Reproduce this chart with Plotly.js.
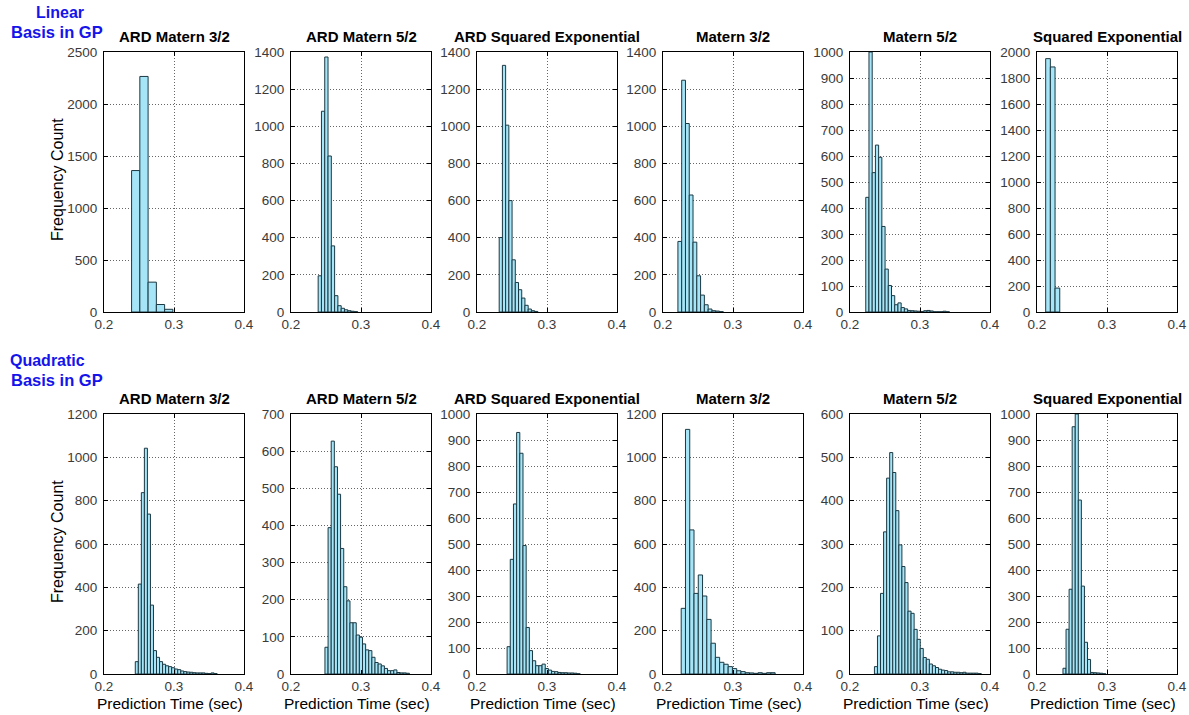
<!DOCTYPE html>
<html>
<head>
<meta charset="utf-8">
<script src="https://cdn.plot.ly/plotly-3.0.1.min.js"></script>
<style>
html,body{margin:0;padding:0;background:#fff;}
#chart{width:1189px;height:715px;}
</style>
</head>
<body>
<div id="chart"></div>
<script>
// ---- Data ----
const kernelNames = ["ARD Matern 3/2", "ARD Matern 5/2", "ARD Squared Exponential", "Matern 3/2", "Matern 5/2", "Squared Exponential"];
const rowLabels = ["Linear", "Quadratic"];
const xTickVals = [0.2, 0.3, 0.4];

// Linear basis: histogram counts
const linArdM32 = [1360, 2265, 287, 72, 26];
const linArdM52 = [195, 1081, 1373, 840, 356, 88, 34, 20, 12, 7, 4, 2];
const linArdSE  = [401, 1328, 1006, 600, 281, 159, 120, 75, 36, 16, 7, 3];
const linM32    = [380, 1248, 1015, 630, 376, 195, 91, 39, 16, 7, 5, 2];
const linM52    = [441, 1000, 536, 642, 595, 329, 165, 102, 63, 28, 35, 17, 12, 6, 5, 4, 3, 2, 5, 6, 4, 1, 1, 1, 3, 1];
const linSE     = [1949, 1885, 184];
const linBinStart = [0.2394, 0.2388, 0.2317, 0.2213, 0.2225, 0.2124];
const linBinWidth = [0.0118, 0.0047, 0.0046, 0.0054, 0.0046, 0.0067];
const linYMax  = [2500, 1400, 1400, 1400, 1000, 2000];
const linYStep = [500, 200, 200, 200, 100, 200];

// Quadratic basis: histogram counts
const quadArdM32 = [57, 415, 837, 1042, 738, 318, 108, 77, 57, 45, 38, 34, 29, 23, 20, 14, 11, 9, 8, 6, 5, 5, 5, 3, 2, 5, 2];
const quadArdM52 = [72, 394, 627, 558, 484, 338, 235, 197, 138, 138, 105, 99, 81, 65, 63, 45, 31, 27, 22, 15, 9, 9, 11, 4, 3, 3, 2];
const quadArdSE  = [105, 441, 654, 929, 849, 494, 179, 90, 51, 32, 32, 38, 21, 15, 10, 9, 6, 5, 5, 4, 4, 3, 1];
const quadM32    = [303, 1129, 665, 372, 457, 360, 252, 142, 77, 54, 45, 34, 25, 15, 11, 6, 5, 3, 6, 3, 6, 6];
const quadM52    = [17, 88, 186, 328, 452, 511, 465, 377, 298, 248, 211, 145, 140, 103, 80, 59, 38, 34, 23, 19, 15, 11, 9, 8, 5, 5, 4, 4, 3, 4, 2, 2, 2, 2, 1];
const quadSE     = [22, 172, 326, 951, 1000, 669, 338, 122, 56, 6, 5, 4, 3, 1];
const quadBinStart = [0.2447, 0.2485, 0.2430, 0.2260, 0.2349, 0.2371];
const quadBinWidth = [0.00433, 0.00447, 0.00454, 0.0061, 0.00436, 0.00438];
const quadYMax  = [1200, 700, 1000, 1200, 600, 1000];
const quadYStep = [200, 100, 100, 200, 100, 100];

// ---- Layout geometry (pixels) ----
const W = 1189, H = 715;
const panelLefts = [104, 291, 477, 663, 850, 1037];
const panelW = 140;
const rowsPx = [[52, 312], [414, 674]];
const FONT = "Liberation Sans, Arial, Helvetica, sans-serif";
const barFill = "rgb(165,229,247)";
const barEdge = "rgb(28,56,66)";

const rowsData = [
  {counts: [linArdM32, linArdM52, linArdSE, linM32, linM52, linSE], start: linBinStart, width: linBinWidth, ymax: linYMax, ystep: linYStep},
  {counts: [quadArdM32, quadArdM52, quadArdSE, quadM32, quadM52, quadSE], start: quadBinStart, width: quadBinWidth, ymax: quadYMax, ystep: quadYStep}
];

const traces = [];
const layout = {
  width: W, height: H,
  margin: {l: 0, r: 0, t: 0, b: 0},
  paper_bgcolor: "#fff", plot_bgcolor: "#fff",
  showlegend: false,
  font: {family: FONT, color: "#000"},
  annotations: []
};

let n = 0;
rowsData.forEach((row, r) => {
  const [top, bot] = rowsPx[r];
  for (let c = 0; c < 6; c++) {
    n++;
    const xa = "xaxis" + (n === 1 ? "" : n);
    const ya = "yaxis" + (n === 1 ? "" : n);
    const xr = "x" + (n === 1 ? "" : n);
    const yr = "y" + (n === 1 ? "" : n);
    const left = panelLefts[c];
    traces.push({
      type: "bar",
      y: row.counts[c],
      x0: row.start[c],
      dx: row.width[c],
      width: row.width[c],
      offset: 0,
      marker: {color: barFill, line: {color: barEdge, width: 1}},
      xaxis: xr, yaxis: yr,
      hovertemplate: "%{x:.3f}: %{y}<extra></extra>"
    });
    const common = {
      showline: true, linecolor: "#000", linewidth: 1, mirror: "ticks",
      ticks: "inside", ticklen: 4, tickcolor: "#000",
      showgrid: true, gridcolor: "#666", griddash: "1px,2px", gridwidth: 1,
      zeroline: false, fixedrange: true,
      tickfont: {family: FONT, size: 13.5, color: "#3a3a3a"}
    };
    layout[xa] = Object.assign({}, common, {
      domain: [left / W, (left + panelW) / W],
      range: [0.2, 0.4], tickvals: xTickVals, tickformat: ".1f",
      anchor: yr
    });
    layout[ya] = Object.assign({}, common, {
      domain: [1 - bot / H, 1 - top / H],
      range: [0, row.ymax[c]], tick0: 0, dtick: row.ystep[c],
      anchor: xr, ticklabelstandoff: 3
    });
    // panel title
    layout.annotations.push({
      text: "<b>" + kernelNames[c] + "</b>",
      xref: "paper", yref: "paper",
      x: (left + panelW / 2) / W, y: 1 - (top - 15) / H,
      xanchor: "center", yanchor: "middle", showarrow: false,
      font: {family: FONT, size: 15, color: "#000"}
    });
  }
  // y axis title (first column)
  layout.annotations.push({
    text: "Frequency Count", textangle: -90,
    xref: "paper", yref: "paper",
    x: 57 / W, y: 1 - ((top + bot) / 2 - 2) / H,
    xanchor: "center", yanchor: "middle", showarrow: false,
    font: {family: FONT, size: 16, color: "#000"}
  });
});

// x axis titles (bottom row)
for (let c = 0; c < 6; c++) {
  layout.annotations.push({
    text: "Prediction Time (sec)",
    xref: "paper", yref: "paper",
    x: (panelLefts[c] + panelW / 2 - 4) / W, y: 1 - 703 / H,
    xanchor: "center", yanchor: "middle", showarrow: false,
    font: {family: FONT, size: 15.5, color: "#000"}
  });
}

// row labels
const blue = "rgb(20,20,235)";
const rowLabelPos = [[[60, 12], [57, 32]], [[47, 360], [57, 380]]];
rowLabels.forEach((lab, r) => {
  layout.annotations.push({
    text: "<b>" + lab + "</b>", xref: "paper", yref: "paper",
    x: rowLabelPos[r][0][0] / W, y: 1 - rowLabelPos[r][0][1] / H,
    xanchor: "center", yanchor: "middle", showarrow: false,
    font: {family: FONT, size: 16, color: blue}
  });
  layout.annotations.push({
    text: "<b>Basis in GP</b>", xref: "paper", yref: "paper",
    x: rowLabelPos[r][1][0] / W, y: 1 - rowLabelPos[r][1][1] / H,
    xanchor: "center", yanchor: "middle", showarrow: false,
    font: {family: FONT, size: 16.5, color: blue}
  });
});

Plotly.newPlot("chart", traces, layout, {staticPlot: true, displayModeBar: false});
</script>
</body>
</html>
